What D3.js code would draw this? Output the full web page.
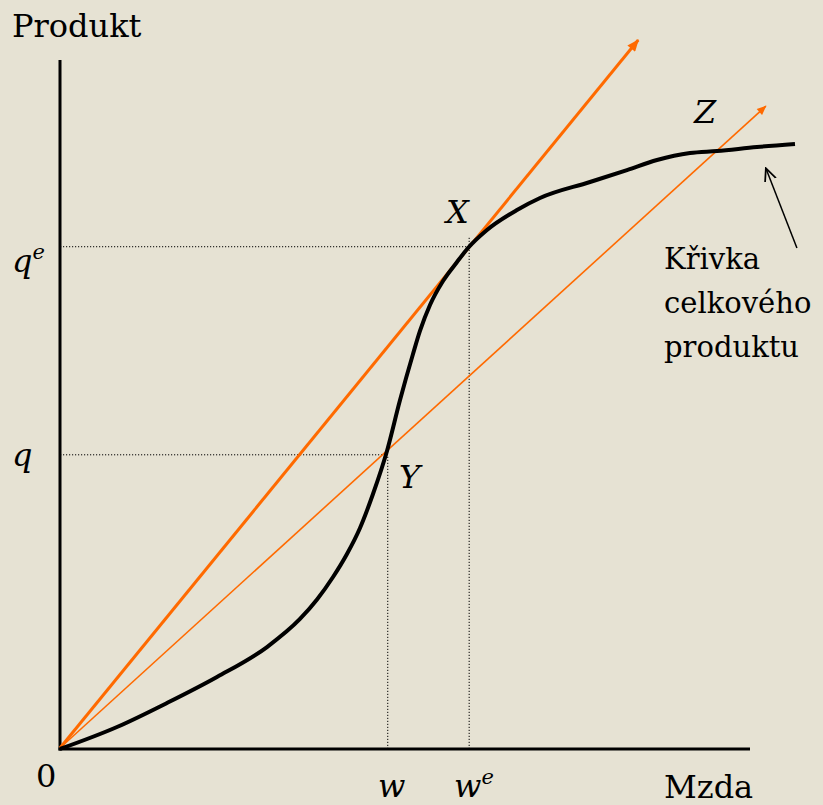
<!DOCTYPE html>
<html>
<head>
<meta charset="utf-8">
<script src="https://d3js.org/d3.v7.min.js"></script>
<style>
  body { margin: 0; background: #e6e2d3; }
</style>
</head>
<body>
<script>

// total product curve (wage, product), in chart units 0..100
var curveWage    = [0, 8.26, 15.51, 22.75, 30.0, 34.78, 37.25, 39.57, 41.59, 43.48, 45.36, 47.39, 49.28, 51.16, 52.17, 53.62, 55.51, 57.54, 59.13, 61.88, 66.23, 69.57, 76.81, 82.17, 86.52, 91.30, 95.22, 101.01, 106.52];
var curveProduct = [0, 3.19, 6.68, 10.45, 14.8, 18.87, 21.70, 24.96, 28.30, 32.08, 37.01, 43.25, 50.65, 57.33, 60.67, 64.44, 67.92, 70.68, 72.71, 75.33, 78.23, 79.97, 82.29, 84.03, 85.49, 86.50, 86.79, 87.37, 87.81];

// rays from origin: end points
var rayEndWage    = [83.8, 102.3];
var rayEndProduct = [102.9, 93.3];
var rayWidth      = [3, 1.6];

// marked points
var pointNames   = ["X", "Y"];
var pointWage    = [59.3, 47.5];
var pointProduct = [72.9, 42.7];

// pointer to curve label
var pointerWage    = [106.8, 102.3];
var pointerProduct = [72.7, 84.3];

var width = 823, height = 805;
var fam = "'DejaVu Serif'";

var x = d3.scaleLinear().domain([0, 100]).range([60, 750]);
var y = d3.scaleLinear().domain([0, 100]).range([749, 60]);

var svg = d3.select("body").append("svg")
    .attr("width", width)
    .attr("height", height);

svg.append("rect").attr("width", width).attr("height", height).attr("fill", "#e6e2d3");

var defs = svg.append("defs");
defs.append("marker")
    .attr("id", "headThick")
    .attr("markerUnits", "userSpaceOnUse")
    .attr("viewBox", "0 0 12 10")
    .attr("refX", 11).attr("refY", 5)
    .attr("markerWidth", 13).attr("markerHeight", 10)
    .attr("orient", "auto")
  .append("path").attr("d", "M0,0 L12,5 L0,10 Z").attr("fill", "#ff6a00");
defs.append("marker")
    .attr("id", "headThin")
    .attr("markerUnits", "userSpaceOnUse")
    .attr("viewBox", "0 0 12 10")
    .attr("refX", 11).attr("refY", 5)
    .attr("markerWidth", 11).attr("markerHeight", 8)
    .attr("orient", "auto")
  .append("path").attr("d", "M0,0 L12,5 L0,10 Z").attr("fill", "#ff6a00");
defs.append("marker")
    .attr("id", "headOpen")
    .attr("markerUnits", "userSpaceOnUse")
    .attr("viewBox", "0 0 12 12")
    .attr("refX", 11).attr("refY", 6)
    .attr("markerWidth", 14).attr("markerHeight", 14)
    .attr("orient", "auto")
  .append("path").attr("d", "M0,1 L11,6 L0,11").attr("fill", "none")
    .attr("stroke", "#000").attr("stroke-width", 1.5);

// dotted guide lines
for (var i = 0; i < pointNames.length; i++) {
  svg.append("line")
      .attr("x1", x(0)).attr("y1", y(pointProduct[i]))
      .attr("x2", x(pointWage[i])).attr("y2", y(pointProduct[i]))
      .attr("stroke", "#000").attr("stroke-width", 1)
      .attr("stroke-dasharray", "1.2,1.8");
  svg.append("line")
      .attr("x1", x(pointWage[i])).attr("y1", y(0))
      .attr("x2", x(pointWage[i])).attr("y2", y(pointProduct[i]) - (i == 0 ? 10 : 0))
      .attr("stroke", "#000").attr("stroke-width", 1)
      .attr("stroke-dasharray", "1.2,1.8");
}

// axes
svg.append("line")
    .attr("x1", x(0)).attr("y1", y(0) + 1.5)
    .attr("x2", x(0)).attr("y2", y(100))
    .attr("stroke", "#000").attr("stroke-width", 3);
svg.append("line")
    .attr("x1", x(0) - 1.5).attr("y1", y(0))
    .attr("x2", x(100)).attr("y2", y(0))
    .attr("stroke", "#000").attr("stroke-width", 3);

// orange rays
for (var r = 0; r < rayEndWage.length; r++) {
  svg.append("line")
      .attr("x1", x(0)).attr("y1", y(0) - 1)
      .attr("x2", x(rayEndWage[r])).attr("y2", y(rayEndProduct[r]))
      .attr("stroke", "#ff6a00")
      .attr("stroke-width", rayWidth[r])
      .attr("marker-end", r == 0 ? "url(#headThick)" : "url(#headThin)");
}

// total product curve
var pts = curveWage.map(function(d, i) { return [d, curveProduct[i]]; });
var line = d3.line()
    .x(function(d) { return x(d[0]); })
    .y(function(d) { return y(d[1]); })
    .curve(d3.curveMonotoneX);
svg.append("path")
    .attr("d", line(pts))
    .attr("fill", "none")
    .attr("stroke", "#000")
    .attr("stroke-width", 4)
    .attr("stroke-linejoin", "round");

// pointer arrow
svg.append("line")
    .attr("x1", x(pointerWage[0])).attr("y1", y(pointerProduct[0]))
    .attr("x2", x(pointerWage[1])).attr("y2", y(pointerProduct[1]))
    .attr("stroke", "#000").attr("stroke-width", 1.5)
    .attr("marker-end", "url(#headOpen)");

// labels
function label(tx, ty, str, italic, size) {
  return svg.append("text")
      .attr("x", tx).attr("y", ty)
      .style("font-family", fam)
      .attr("font-size", size || "32px")
      .attr("font-style", italic ? "italic" : null)
      .text(str);
}
label(12, 37, "Produkt");
label(664, 798, "Mzda");
label(36, 787, "0");

var qe = label(12, 272, "", true);
qe.append("tspan").text("q");
qe.append("tspan").attr("dy", -13).attr("font-size", "21px").text("e");

label(12, 466, "q", true);
label(378, 797, "w", true);
var we = label(454, 797, "", true);
we.append("tspan").text("w");
we.append("tspan").attr("dy", -13).attr("font-size", "21px").text("e");

label(446, 223, "X", true);
label(399, 488, "Y", true);
label(694, 123, "Z", true);

var lbl = ["Křivka", "celkového", "produktu"];
for (var k = 0; k < lbl.length; k++) {
  label(664, 269 + k * 44, lbl[k], false, "29px");
}

</script>
</body>
</html>
